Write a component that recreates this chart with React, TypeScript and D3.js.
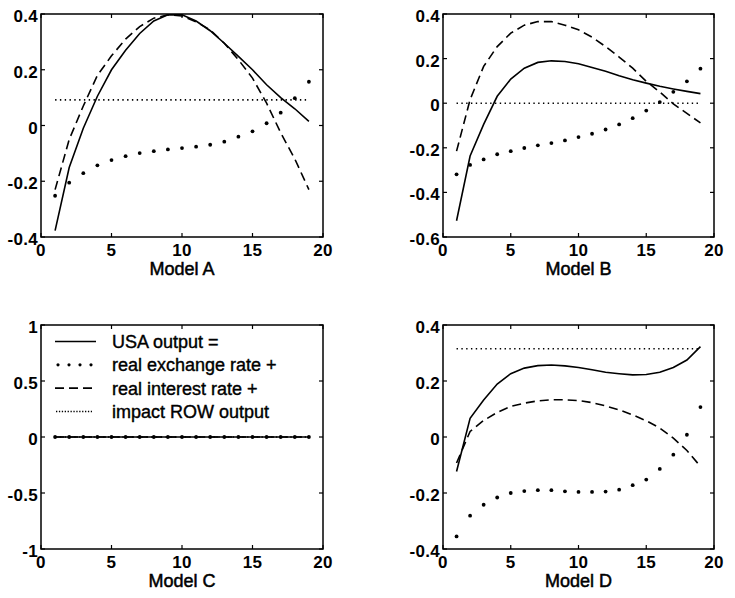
import React from "react";
import * as d3 from "d3";

const periods = [1, 2, 3, 4, 5, 6, 7, 8, 9, 10, 11, 12, 13, 14, 15, 16, 17, 18, 19];

// Model A
const usaA = [-0.377, -0.151, -0.01, 0.105, 0.2, 0.27, 0.33, 0.375, 0.397, 0.397, 0.375, 0.34, 0.295, 0.248, 0.2, 0.146, 0.1, 0.06, 0.015];
const rerA = [-0.252, -0.205, -0.171, -0.143, -0.124, -0.11, -0.099, -0.092, -0.086, -0.081, -0.076, -0.069, -0.058, -0.04, -0.021, 0.008, 0.046, 0.098, 0.157];
const rirA = [-0.23, -0.05, 0.07, 0.18, 0.25, 0.31, 0.355, 0.385, 0.397, 0.393, 0.372, 0.343, 0.295, 0.236, 0.17, 0.08, -0.026, -0.12, -0.23];

// Model B
const usaB = [-0.527, -0.237, -0.095, 0.031, 0.108, 0.157, 0.183, 0.19, 0.187, 0.177, 0.16, 0.143, 0.123, 0.105, 0.09, 0.076, 0.064, 0.053, 0.043];
const rerB = [-0.319, -0.277, -0.252, -0.229, -0.215, -0.201, -0.189, -0.179, -0.167, -0.152, -0.137, -0.118, -0.095, -0.067, -0.033, 0.005, 0.051, 0.098, 0.155];
const rirB = [-0.215, 0.016, 0.165, 0.254, 0.314, 0.35, 0.366, 0.366, 0.35, 0.329, 0.296, 0.254, 0.207, 0.157, 0.098, 0.05, -0.003, -0.046, -0.088];

// Model C
const usaC = [0, 0, 0, 0, 0, 0, 0, 0, 0, 0, 0, 0, 0, 0, 0, 0, 0, 0, 0];
const rerC = [0, 0, 0, 0, 0, 0, 0, 0, 0, 0, 0, 0, 0, 0, 0, 0, 0, 0, 0];
const rirC = [0, 0, 0, 0, 0, 0, 0, 0, 0, 0, 0, 0, 0, 0, 0, 0, 0, 0, 0];

// Model D
const usaD = [-0.123, 0.067, 0.132, 0.189, 0.226, 0.246, 0.255, 0.257, 0.254, 0.248, 0.24, 0.231, 0.226, 0.222, 0.223, 0.231, 0.248, 0.275, 0.323];
const rerD = [-0.355, -0.281, -0.242, -0.216, -0.2, -0.193, -0.19, -0.19, -0.194, -0.196, -0.196, -0.195, -0.188, -0.172, -0.152, -0.114, -0.063, 0.008, 0.107];
const rirD = [-0.093, 0.02, 0.059, 0.088, 0.109, 0.121, 0.129, 0.133, 0.133, 0.13, 0.123, 0.111, 0.097, 0.079, 0.058, 0.032, -0.004, -0.048, -0.105];

// impact ROW output (constant per model)
const rowImpact = [0.092, 0, 0, 0.315];

const modelNames = ["Model A", "Model B", "Model C", "Model D"];
const xTicks = [0, 5, 10, 15, 20];
const yTicksA = [-0.4, -0.2, 0, 0.2, 0.4];
const yTicksB = [-0.6, -0.4, -0.2, 0, 0.2, 0.4];
const yTicksC = [-1, -0.5, 0, 0.5, 1];
const yTicksD = [-0.4, -0.2, 0, 0.2, 0.4];

const legendLabels = ["USA output =", "real exchange rate +", "real interest rate +", "impact ROW output"];

const FONT = "'Liberation Sans', Arial, Helvetica, sans-serif";

type PanelProps = {
  left: number;
  right: number;
  top: number;
  bottom: number;
  usa: number[];
  rer: number[];
  rir: number[];
  row: number;
  yTicks: number[];
  name: string;
  legend?: boolean;
};

function Panel(p: PanelProps) {
  const x = d3.scaleLinear().domain([0, 20]).range([p.left, p.right]);
  const y = d3.scaleLinear().domain([p.yTicks[0], p.yTicks[p.yTicks.length - 1]]).range([p.bottom, p.top]);
  const line = d3
    .line<number>()
    .x((_, i) => x(periods[i]))
    .y((d) => y(d));
  const rowLine = line(periods.map(() => p.row)) || "";
  const tl = 4;
  const lw = 1.6;
  return (
    <g>
      {/* data */}
      <path d={rowLine} fill="none" stroke="#000" strokeWidth={1.6} strokeDasharray="1.4 3.4" />
      <path d={line(p.rir) || ""} fill="none" stroke="#000" strokeWidth={lw} strokeDasharray="9 5" />
      <path d={line(p.usa) || ""} fill="none" stroke="#000" strokeWidth={lw} />
      {p.rer.map((v, i) => (
        <circle key={i} cx={x(periods[i])} cy={y(v)} r={1.9} fill="#000" />
      ))}
      {/* box */}
      <rect x={p.left} y={p.top} width={p.right - p.left} height={p.bottom - p.top} fill="none" stroke="#000" strokeWidth={1.5} />
      {xTicks.map((t) => (
        <g key={"x" + t}>
          <line x1={x(t)} x2={x(t)} y1={p.bottom} y2={p.bottom - tl} stroke="#000" strokeWidth={1.2} />
          <line x1={x(t)} x2={x(t)} y1={p.top} y2={p.top + tl} stroke="#000" strokeWidth={1.2} />
          <text x={x(t)} y={p.bottom + 19} textAnchor="middle" fontFamily={FONT} fontWeight="bold" fontSize={17} letterSpacing={0.3}>
            {String(t)}
          </text>
        </g>
      ))}
      {p.yTicks.map((t) => (
        <g key={"y" + t}>
          <line x1={p.left} x2={p.left + tl} y1={y(t)} y2={y(t)} stroke="#000" strokeWidth={1.2} />
          <line x1={p.right} x2={p.right - tl} y1={y(t)} y2={y(t)} stroke="#000" strokeWidth={1.2} />
          <text x={p.left - 3} y={y(t) + 8} textAnchor="end" fontFamily={FONT} fontWeight="bold" fontSize={17} letterSpacing={0.3}>
            {String(t)}
          </text>
        </g>
      ))}
      <text
        x={(p.left + p.right) / 2}
        y={p.bottom + 38}
        textAnchor="middle"
        fontFamily={FONT}
        fontSize={18}
        stroke="#000"
        strokeWidth={0.5}
      >
        {p.name}
      </text>
      {p.legend && (
        <g>
          {legendLabels.map((lab, i) => {
            const base = p.top + 23 + i * 23.3;
            const ly = base - 6.5;
            const x0 = p.left + 14;
            const x1 = p.left + 55;
            return (
              <g key={lab}>
                {i === 0 && <line x1={x0} x2={x1} y1={ly} y2={ly} stroke="#000" strokeWidth={lw} />}
                {i === 1 &&
                  [0, 1, 2, 3].map((k) => <circle key={k} cx={x0 + 3 + k * 11} cy={ly} r={1.6} fill="#000" />)}
                {i === 2 && <line x1={x0} x2={x1} y1={ly} y2={ly} stroke="#000" strokeWidth={lw} strokeDasharray="9 5" />}
                {i === 3 && (
                  <line x1={x0 + 1} x2={x1 - 4} y1={ly} y2={ly} stroke="#000" strokeWidth={1.5} strokeDasharray="1.3 1.6" />
                )}
                <text x={p.left + 71} y={base} fontFamily={FONT} fontSize={18} stroke="#000" strokeWidth={0.4}>
                  {lab}
                </text>
              </g>
            );
          })}
        </g>
      )}
    </g>
  );
}

export default function App() {
  return (
    <svg
      width={735}
      height={598}
      style={{ position: "absolute", left: 0, top: 0, background: "#fff" }}
    >
      <rect x={0} y={0} width={735} height={598} fill="#fff" />
      <Panel left={41} right={323} top={14} bottom={237} usa={usaA} rer={rerA} rir={rirA} row={rowImpact[0]} yTicks={yTicksA} name={modelNames[0]} />
      <Panel left={443} right={714} top={14} bottom={237} usa={usaB} rer={rerB} rir={rirB} row={rowImpact[1]} yTicks={yTicksB} name={modelNames[1]} />
      <Panel left={41} right={323} top={325} bottom={549} usa={usaC} rer={rerC} rir={rirC} row={rowImpact[2]} yTicks={yTicksC} name={modelNames[2]} legend />
      <Panel left={443} right={714} top={325} bottom={549} usa={usaD} rer={rerD} rir={rirD} row={rowImpact[3]} yTicks={yTicksD} name={modelNames[3]} />
    </svg>
  );
}
